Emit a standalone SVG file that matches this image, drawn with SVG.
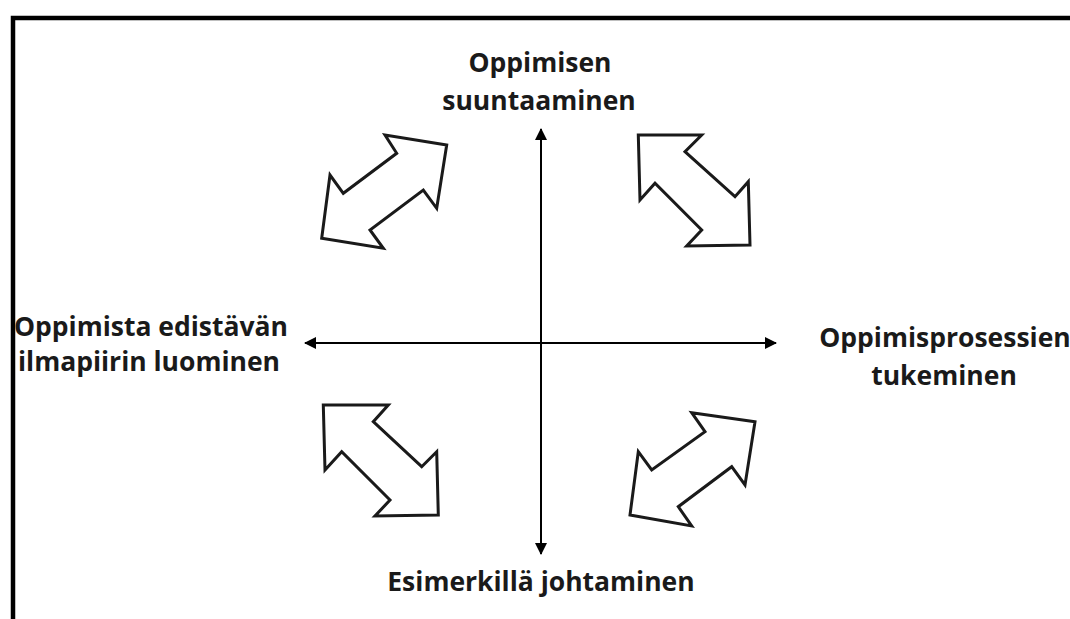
<svg xmlns="http://www.w3.org/2000/svg" width="1070" height="619" viewBox="0 0 1070 619">
<defs>
<style>
.lbl{font-family:"Open Sans","Noto Sans","DejaVu Sans",sans-serif;font-weight:bold;font-size:26.5px;fill:#1a1a1a;text-anchor:middle}
.ax{stroke:#000;stroke-width:2;fill:none}
.blk{fill:#fff;stroke:#1a1a1a;stroke-width:3;stroke-linejoin:miter}
</style>
<marker id="ah" viewBox="0 0 12 12" refX="11" refY="6" markerWidth="12" markerHeight="12" markerUnits="userSpaceOnUse" orient="auto">
<path d="M0,0 L12,6 L0,12 Z" fill="#000"/>
</marker>
</defs>
<rect width="1070" height="619" fill="#fff"/>
<rect x="13" y="18" width="1080" height="640" fill="none" stroke="#000" stroke-width="4.5"/>
<g id="connectors">
<line class="ax" x1="541" y1="343" x2="541" y2="129" marker-end="url(#ah)"/>
<line class="ax" x1="541" y1="343" x2="541" y2="554" marker-end="url(#ah)"/>
<line class="ax" x1="541" y1="343" x2="305" y2="343" marker-end="url(#ah)"/>
<line class="ax" x1="541" y1="343" x2="776" y2="343" marker-end="url(#ah)"/>
</g>
<g id="arrow-tl"><polygon class="blk" points="446.7,145 385,135 396.7,153.3 343.3,193.3 330,175 321.7,238.3 383.3,248.3 370,230 423.3,190 436.7,208.3"/></g>
<g id="arrow-tr"><polygon class="blk" points="638.3,135 701.7,135 685,151.7 735,196.7 748.3,181.7 750,245 686.7,246 701.7,230 655,183.3 640,200"/></g>
<g id="arrow-bl"><polygon class="blk" points="323.3,405 388.3,405 373.3,421.7 421.7,466.7 436.7,451.7 438.3,515 375,516 390,500 341.7,451.7 325,470"/></g>
<g id="arrow-br"><polygon class="blk" points="755,421.7 691.7,412.7 705,431.7 651.7,470 638.3,451.7 630,515 691.7,526 678.3,506.7 731.7,466.7 745,485"/></g>
<g id="node-top"><text class="lbl" x="540" y="72">Oppimisen</text><text class="lbl" x="539" y="110">suuntaaminen</text></g>
<g id="node-left"><text class="lbl" x="151" y="336">Oppimista edistävän</text><text class="lbl" x="149" y="371">ilmapiirin luominen</text></g>
<g id="node-right"><text class="lbl" x="945" y="347">Oppimisprosessien</text><text class="lbl" x="944" y="385">tukeminen</text></g>
<g id="node-bottom"><text class="lbl" x="541" y="591">Esimerkillä johtaminen</text></g>
</svg>
